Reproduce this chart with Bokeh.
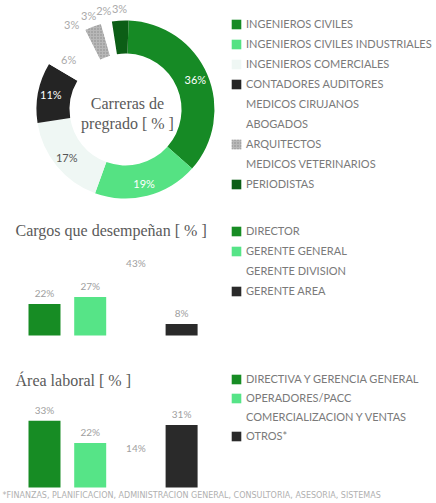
import numpy as np
from bokeh.plotting import figure
from bokeh.models import ColumnDataSource, Legend, LegendItem, Label, Range1d
from bokeh.layouts import column
from bokeh.core.properties import value
from bokeh.embed import file_html
from bokeh.resources import INLINE

# ---------------- data ----------------
carreras = ["INGENIEROS CIVILES", "INGENIEROS CIVILES INDUSTRIALES", "INGENIEROS COMERCIALES",
            "CONTADORES AUDITORES", "MEDICOS CIRUJANOS", "ABOGADOS", "ARQUITECTOS",
            "MEDICOS VETERINARIOS", "PERIODISTAS"]
carreras_pct = [36, 19, 17, 11, 6, 3, 3, 2, 3]
carreras_colors = ["#168a25", "#55e283", "#eff7f4", "#242424", "#ffffff", "#ffffff",
                   "#b8b8b8", "#ffffff", "#0c5e16"]
carreras_hatch = [" ", " ", " ", " ", " ", " ", ".", " ", " "]
carreras_label_colors = ["#ffffff", "#ffffff", "#555555", "#ffffff", "#aaaaaa", "#aaaaaa",
                         "#aaaaaa", "#aaaaaa", "#aaaaaa"]

cargos = ["DIRECTOR", "GERENTE GENERAL", "GERENTE DIVISION", "GERENTE AREA"]
cargos_pct = [22, 27, 43, 8]
cargos_colors = ["#178c24", "#56e487", "#ffffff", "#2a2a2a"]

areas = ["DIRECTIVA Y GERENCIA GENERAL", "OPERADORES/PACC", "COMERCIALIZACION Y VENTAS", "OTROS*"]
areas_pct = [33, 22, 14, 31]
areas_colors = ["#178c24", "#56e487", "#ffffff", "#2a2a2a"]

footnote = "*FINANZAS, PLANIFICACION, ADMINISTRACION GENERAL, CONSULTORIA, ASESORIA, SISTEMAS"

W = 436
SANS = "Lato"
SERIF = "Liberation Serif"
TXT = "#7a7a7a"


def base_fig(h, xr, yr):
    p = figure(width=W, height=h, x_range=xr, y_range=yr, output_backend="svg",
               toolbar_location=None, x_axis_location=None, y_axis_location=None,
               min_border=0, title=None)
    p.grid.visible = False
    p.outline_line_color = None
    p.background_fill_color = "white"
    p.border_fill_color = "white"
    return p


def make_legend(items, loc, spacing):
    lg = Legend(items=items, location=loc, padding=0, margin=0,
                border_line_alpha=0, background_fill_alpha=0,
                glyph_width=12, glyph_height=12, label_height=12,
                spacing=spacing, label_standoff=4,
                label_text_font=SANS, label_text_font_size="11px",
                label_text_color=TXT)
    return lg


# ---------------- donut ----------------
H1 = 208
p1 = base_fig(H1, Range1d(-125, W - 125), Range1d(-(H1 - 109), 109))

offset = np.deg2rad(2)
frac = np.array(carreras_pct, dtype=float) / sum(carreras_pct)
cum = np.concatenate([[0.0], np.cumsum(frac)]) * 2 * np.pi + offset
cw_start, cw_end = cum[:-1], cum[1:]
src1 = ColumnDataSource(dict(
    name=carreras, pct=carreras_pct, color=carreras_colors, hatch=carreras_hatch,
    start=np.pi / 2 - cw_end, end=np.pi / 2 - cw_start))
r1 = p1.annular_wedge(x=0, y=0, inner_radius=56, outer_radius=89,
                      start_angle="start", end_angle="end", fill_color="color",
                      hatch_pattern="hatch", hatch_color="#8a8a8a", hatch_scale=3,
                      hatch_weight=1, line_color=None, source=src1)

mid = (cw_start + cw_end) / 2
rad = np.where(np.array(carreras_pct) >= 5, 76, 101)
lab1 = ColumnDataSource(dict(x=rad * np.sin(mid), y=rad * np.cos(mid),
                             t=[f"{v}%" for v in carreras_pct], c=carreras_label_colors))
p1.text(x="x", y="y", text="t", text_color="c", source=lab1, text_align="center",
        text_baseline="middle", text_font=value(SANS), text_font_size="11px")
p1.text(x=[2], y=[-4], text=["Carreras de\npregrado [ % ]"], text_align="center",
        text_baseline="middle", text_font=value(SERIF), text_font_size="16px",
        text_color="#5a5a5a", text_line_height=1.2)

items1 = [LegendItem(label=n, renderers=[r1], index=i) for i, n in enumerate(carreras)]
p1.add_layout(make_legend(items1, (230, 18), 7))

# ---------------- cargos ----------------
H2 = 137
px_per = 45.7
x0 = 44
p2 = base_fig(H2, Range1d(-x0 / px_per, (W - x0) / px_per), Range1d(-10 / 1.43, (H2 - 10) / 1.43))
src2 = ColumnDataSource(dict(x=list(range(len(cargos))), top=cargos_pct, color=cargos_colors,
                             t=[f"{v}%" for v in cargos_pct], name=cargos))
r2 = p2.vbar(x="x", top="top", bottom=0, width=0.7, fill_color="color", line_color=None, source=src2)
p2.text(x="x", y="top", text="t", source=src2, text_align="center", text_baseline="bottom",
        y_offset=-5, text_font=value(SANS), text_font_size="10px", text_color="#a0a0a0")
p2.add_layout(Label(x=15, y=115, x_units="screen", y_units="screen",
                    text="Cargos que desempeñan [ % ]", text_font=SERIF, text_font_size="16px",
                    text_color="#5a5a5a", text_baseline="middle"))
items2 = [LegendItem(label=n, renderers=[r2], index=i) for i, n in enumerate(cargos)]
p2.add_layout(make_legend(items2, (230, 48), 7))

# ---------------- area laboral ----------------
H3 = 158
p3 = base_fig(H3, Range1d(-x0 / px_per, (W - x0) / px_per), Range1d(-16 / 2.02, (H3 - 16) / 2.02))
src3 = ColumnDataSource(dict(x=list(range(len(areas))), top=areas_pct, color=areas_colors,
                             t=[f"{v}%" for v in areas_pct], name=areas))
r3 = p3.vbar(x="x", top="top", bottom=0, width=0.7, fill_color="color", line_color=None, source=src3)
p3.text(x="x", y="top", text="t", source=src3, text_align="center", text_baseline="bottom",
        y_offset=-5, text_font=value(SANS), text_font_size="10px", text_color="#a0a0a0")
p3.add_layout(Label(x=15, y=123, x_units="screen", y_units="screen",
                    text="Área laboral [ % ]", text_font=SERIF, text_font_size="16px",
                    text_color="#5a5a5a", text_baseline="middle"))
p3.add_layout(Label(x=2, y=8, x_units="screen", y_units="screen", text=footnote,
                    text_font="DejaVu Sans", text_font_size="8px", text_color="#b0b0b0",
                    text_baseline="middle"))
items3 = [LegendItem(label=n, renderers=[r3], index=i) for i, n in enumerate(areas)]
p3.add_layout(make_legend(items3, (230, 61), 6))

layout = column(p1, p2, p3, spacing=0)
open("out.html", "w").write(file_html(layout, INLINE))
